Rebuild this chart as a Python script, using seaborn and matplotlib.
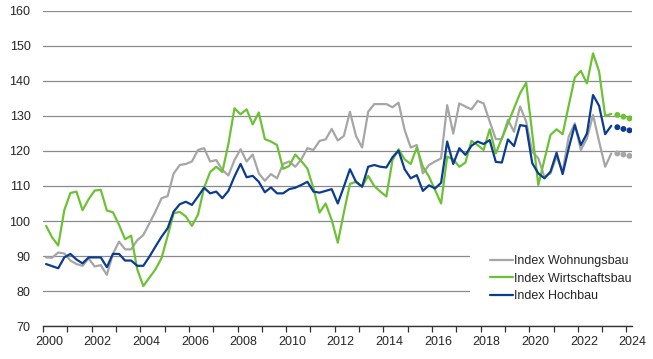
import numpy as np
import pandas as pd
import matplotlib
matplotlib.use("Agg")
import matplotlib.pyplot as plt
import matplotlib.transforms as mtransforms
from matplotlib.lines import Line2D
from matplotlib.patches import Rectangle
import seaborn as sns

# Quarterly index values, Q1 2000 - Q2 2023
wohnungsbau = [
    89.6, 89.5, 91.0, 90.7, 88.7, 87.7, 87.2, 89.3, 87.0, 87.4, 84.6, 90.6,
    94.1, 91.9, 91.9, 94.5, 96.0, 99.3, 102.7, 106.5, 107.1, 113.6, 116.0, 116.3,
    117.0, 120.3, 120.8, 117.0, 117.4, 114.6, 113.0, 117.4, 120.5, 117.0, 119.0, 113.6,
    111.5, 113.4, 112.2, 116.3, 117.0, 115.5, 117.6, 120.8, 120.3, 122.9, 123.3, 126.3,
    123.0, 124.3, 131.2, 124.3, 121.0, 131.2, 133.4, 133.4, 133.4, 132.5, 133.8, 126.0,
    121.0, 121.7, 113.6, 116.0, 117.0, 117.9, 133.1, 125.0, 133.6, 132.7, 131.9, 134.3,
    133.6, 128.4, 123.4, 123.4, 128.9, 125.5, 132.7, 128.4, 119.8, 117.9, 112.6, 113.6,
    118.4, 114.1, 124.1, 127.9, 120.3, 123.6, 130.3, 122.7, 115.5, 119.3,
]
wirtschaftsbau = [
    98.6, 95.3, 93.0, 103.1, 108.0, 108.4, 103.1, 106.2, 108.7, 108.9, 103.0, 102.5,
    98.9, 94.8, 95.8, 86.2, 81.4, 83.8, 86.2, 89.4, 95.7, 102.2, 102.6, 101.3,
    98.6, 101.8, 109.5, 114.0, 115.5, 114.0, 122.0, 132.2, 130.5, 131.9, 127.6, 131.0,
    123.4, 122.7, 121.7, 114.9, 115.7, 119.0, 117.1, 115.0, 109.3, 102.4, 105.0, 100.3,
    93.8, 102.4, 110.6, 111.2, 109.8, 112.9, 110.0, 108.4, 107.0, 117.4, 120.5, 117.6,
    116.3, 121.0, 115.5, 112.7, 108.9, 105.0, 118.4, 117.6, 115.5, 116.7, 122.9, 121.7,
    120.3, 126.2, 119.3, 123.6, 127.9, 132.2, 136.5, 139.5, 125.0, 110.3, 117.5, 124.6,
    126.2, 124.8, 133.0, 141.0, 142.9, 139.3, 147.9, 142.7, 130.0, 130.6,
]
hochbau = [
    87.7, 87.1, 86.5, 89.6, 90.6, 89.0, 87.9, 89.6, 89.6, 89.6, 86.8, 90.6,
    90.6, 88.7, 88.7, 87.2, 87.2, 89.8, 92.7, 95.5, 97.9, 102.7, 104.8, 105.5,
    104.6, 107.0, 109.5, 107.9, 108.4, 106.5, 108.6, 112.7, 116.3, 112.5, 112.9, 111.2,
    108.2, 109.6, 107.9, 107.9, 109.1, 109.5, 110.3, 111.2, 108.4, 108.1, 108.6, 109.1,
    105.0, 109.8, 114.8, 111.2, 109.8, 115.5, 116.0, 115.5, 115.3, 118.2, 120.1, 114.8,
    112.2, 113.1, 108.6, 110.2, 109.3, 110.9, 122.7, 116.3, 120.8, 118.9, 121.5, 122.7,
    122.0, 123.1, 116.9, 116.7, 123.3, 121.4, 127.4, 127.1, 116.5, 113.6, 112.2, 114.1,
    119.5, 113.4, 120.8, 127.4, 121.7, 125.0, 136.0, 132.9, 124.8, 127.2,
]

# Forecast quarters Q3 2023 - Q1 2024 (dotted)
prognose_wohnungsbau = [119.3, 119.0, 118.6]
prognose_wirtschaftsbau = [130.3, 129.8, 129.3]
prognose_hochbau = [126.8, 126.3, 125.9]

labels = ["Index Wohnungsbau", "Index Wirtschaftsbau", "Index Hochbau"]
colors = ["#a6a6a6", "#6cc234", "#0b3c8f"]

# long format frames, quarters placed mid-quarter on a year axis
n = len(wohnungsbau)
jahr = 2000.125 + np.arange(n) / 4
jahr_prog = 2000.125 + np.arange(n, n + 3) / 4

df = pd.concat([
    pd.DataFrame({"jahr": jahr, "wert": vals, "reihe": lab})
    for vals, lab in zip([wohnungsbau, wirtschaftsbau, hochbau], labels)
])
df_prog = pd.concat([
    pd.DataFrame({"jahr": jahr_prog, "wert": vals, "reihe": lab})
    for vals, lab in zip([prognose_wohnungsbau, prognose_wirtschaftsbau, prognose_hochbau], labels)
])
palette = dict(zip(labels, colors))

sns.set_theme(style="white")
plt.rcParams["font.family"] = ["Liberation Sans", "DejaVu Sans"]

fig = plt.figure(figsize=(6.53, 3.59), dpi=100)
ax = fig.add_axes([0.0659, 0.0919, 0.902, 0.8775])

sns.lineplot(data=df, x="jahr", y="wert", hue="reihe", palette=palette,
             linewidth=1.6, legend=False, ax=ax, zorder=3)
sns.scatterplot(data=df_prog, x="jahr", y="wert", hue="reihe", palette=palette,
                s=18, linewidth=0, legend=False, ax=ax, zorder=3)

ax.set_xlim(2000, 2024.23)
ax.set_ylim(70, 160)
ax.set_yticks(range(70, 161, 10))
years = list(range(2000, 2025))
ax.set_xticks(years)
ax.set_xticklabels([str(y) if y % 2 == 0 else "" for y in years])
ax.set_xlabel("")
ax.set_ylabel("")

ax.set_axisbelow(True)
ax.yaxis.grid(True, color="#8a8a8a", linewidth=0.9)
ax.xaxis.grid(False)
for side in ["left", "right", "top"]:
    ax.spines[side].set_visible(False)
ax.spines["bottom"].set_color("#333333")
ax.spines["bottom"].set_linewidth(1.0)

ax.tick_params(axis="y", length=0, pad=9, labelsize=9, labelcolor="#262626")
ax.tick_params(axis="x", bottom=True, direction="out", length=4, width=0.9,
               color="#333333", pad=3, labelsize=9, labelcolor="#262626")
offset = mtransforms.ScaledTranslation(0.06, 0, fig.dpi_scale_trans)
for lbl in ax.get_xticklabels():
    lbl.set_transform(lbl.get_transform() + offset)

# white area behind the legend hides the gridlines
ax.add_patch(Rectangle((0.725, 0.025), 0.3, 0.225, transform=ax.transAxes,
                       facecolor="white", edgecolor="none", zorder=1, clip_on=False))

handles = [Line2D([0], [0], color=c, linewidth=1.6) for c in colors]
ax.legend(handles, labels, loc="upper left", bbox_to_anchor=(0.759, 0.225),
          frameon=False, fontsize=9, handlelength=1.8, handletextpad=0.1,
          labelspacing=0.45, borderpad=0, borderaxespad=0, labelcolor="#262626")

fig.savefig("out.png", dpi=100)
